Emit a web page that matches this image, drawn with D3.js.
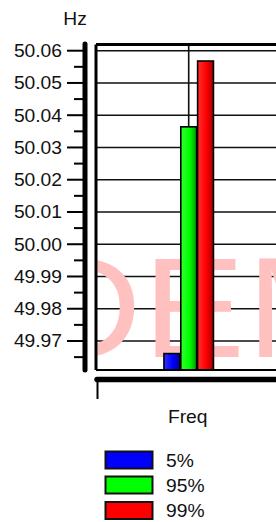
<!DOCTYPE html>
<html><head><meta charset="utf-8">
<script src="https://cdn.jsdelivr.net/npm/d3@7"></script>
<style>
html,body{margin:0;padding:0;background:#fff;}
svg{display:block;}
text{font-family:"Liberation Sans",Arial,sans-serif;fill:#111;}
</style></head>
<body><svg id="c" width="276" height="522"></svg>
<script>
const categories = ["Freq"];
const seriesNames = ["5%", "95%", "99%"];
const seriesValues = [[49.9661], [50.0364], [50.0568]];
const seriesColors = ["#0000ff", "#00ff00", "#ff0000"];
const majorTicks = [49.97, 49.98, 49.99, 50.00, 50.01, 50.02, 50.03, 50.04, 50.05, 50.06];
const minorTicks = [49.965, 49.975, 49.985, 49.995, 50.005, 50.015, 50.025, 50.035, 50.045, 50.055];
const yTitle = "Hz";
const watermark = "DEMO";

const svg = d3.select("#c");
const plot = {left: 97, right: 280.4, top: 44.5, bottom: 370};
const y = d3.scaleLinear().domain([49.97, 50.06]).range([341, 50.7]);
const x = d3.scaleBand().domain(categories).range([plot.left, plot.right]).paddingOuter(0).paddingInner(0);
const xs = d3.scaleBand().domain(seriesNames).range([-24.75, 24.75]).paddingInner(0.06);
const SX = 1.1;
function txt(g, s, px, py, anchor, size){
  return g.append("text").attr("transform", `translate(${px},${py}) scale(${SX},1)`)
    .attr("text-anchor", anchor).attr("font-size", size).text(s);
}

const defs = svg.append("defs");
defs.append("clipPath").attr("id","pc").append("rect")
  .attr("x", plot.left+0.5).attr("y", plot.top+1.5).attr("width", 276).attr("height", plot.bottom-plot.top-2.5);
seriesColors.forEach((c,i)=>{
  const base = d3.rgb(c);
  const g = defs.append("linearGradient").attr("id","g"+i).attr("x1","0").attr("x2","1").attr("y1","0").attr("y2","0");
  g.append("stop").attr("offset","0").attr("stop-color", d3.interpolateRgb(c,"#fff")(0.2));
  g.append("stop").attr("offset","0.25").attr("stop-color", d3.interpolateRgb(c,"#fff")(0.1));
  g.append("stop").attr("offset","0.55").attr("stop-color", c);
  g.append("stop").attr("offset","1").attr("stop-color", base.darker(1.3));
});

// gridlines
svg.append("g").selectAll("line").data(majorTicks).join("line")
  .attr("x1", plot.left).attr("x2", 276).attr("y1", d=>y(d)).attr("y2", d=>y(d))
  .attr("stroke","#111").attr("stroke-width",1.6);
// category gridline
svg.append("line").attr("x1", x("Freq")+x.bandwidth()/2).attr("x2", x("Freq")+x.bandwidth()/2)
  .attr("y1", plot.top).attr("y2", plot.bottom).attr("stroke","#111").attr("stroke-width",1.6);

// watermark
svg.append("g").attr("clip-path","url(#pc)").append("text")
  .attr("transform","translate(31,357) scale(1.07,1)")
  .attr("font-size",143).attr("letter-spacing",1.5).style("fill","#ffc0c0").text(watermark);

// bars
const gx = x("Freq")+x.bandwidth()/2;
svg.append("g").selectAll("rect").data(seriesNames).join("rect")
  .attr("x", d=>gx+xs(d)).attr("width", xs.bandwidth())
  .attr("y", (d,i)=>y(seriesValues[i][0])).attr("height", (d,i)=>plot.bottom - y(seriesValues[i][0]))
  .attr("fill",(d,i)=>`url(#g${i})`).attr("stroke","#000").attr("stroke-width",1.6);

// frame
svg.append("line").attr("x1", plot.left-1).attr("x2", 276).attr("y1", plot.top).attr("y2", plot.top).attr("stroke","#000").attr("stroke-width",3);
svg.append("line").attr("x1", plot.left-1).attr("x2", plot.left-1).attr("y1", plot.top).attr("y2", plot.bottom).attr("stroke","#000").attr("stroke-width",3);
svg.append("line").attr("x1", plot.left-1).attr("x2", 276).attr("y1", plot.bottom).attr("y2", plot.bottom).attr("stroke","#000").attr("stroke-width",2);

// y axis
svg.append("line").attr("x1",85).attr("x2",85).attr("y1",plot.top-0.5).attr("y2",plot.bottom).attr("stroke","#000").attr("stroke-width",5).attr("stroke-linecap","round");
svg.append("g").selectAll("line").data(majorTicks).join("line")
  .attr("x1",67).attr("x2",85).attr("y1",d=>y(d)).attr("y2",d=>y(d)).attr("stroke","#000").attr("stroke-width",2);
svg.append("g").selectAll("line").data(minorTicks).join("line")
  .attr("x1",74).attr("x2",85).attr("y1",d=>y(d)).attr("y2",d=>y(d)).attr("stroke","#000").attr("stroke-width",2);
const yl = svg.append("g");
majorTicks.forEach(v=>txt(yl, d3.format(".2f")(v), 62, y(v)+6.3, "end", 17.5));
txt(svg, yTitle, 75, 25, "middle", 17.5);

// x axis
svg.append("line").attr("x1", plot.left).attr("x2", 280).attr("y1", 379.5).attr("y2", 379.5).attr("stroke","#000").attr("stroke-width",5.5).attr("stroke-linecap","round");
const xt = [x("Freq"), x("Freq")+x.bandwidth()];
svg.append("g").selectAll("line").data(xt).join("line")
  .attr("x1",d=>d+0.5).attr("x2",d=>d+0.5).attr("y1",380).attr("y2",399).attr("stroke","#000").attr("stroke-width",2);
categories.forEach(c=>txt(svg, c, x(c)+x.bandwidth()/2-1, 423, "middle", 17.5));

// legend
const leg = svg.append("g");
const ly = [451.5, 476.5, 502];
seriesNames.forEach((s,i)=>{
  leg.append("rect").attr("x",105.5).attr("y",ly[i]).attr("width",47).attr("height",17)
    .attr("fill",seriesColors[i]).attr("stroke","#111").attr("stroke-width",2);
  txt(leg, s, 166, ly[i]+15, "start", 17.5);
});
</script></body></html>
